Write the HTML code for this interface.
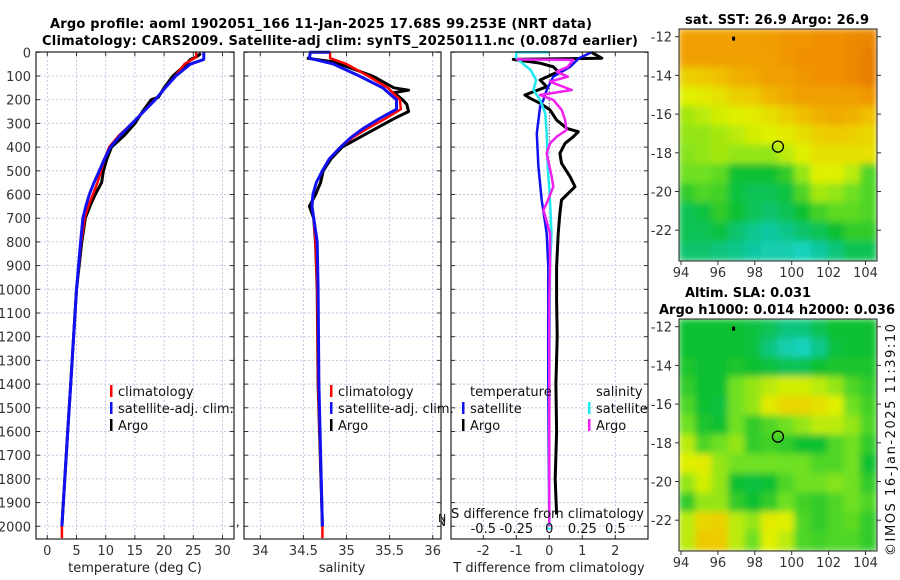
<!DOCTYPE html>
<html><head><meta charset="utf-8"><style>
html,body{margin:0;padding:0;background:#fff;}
svg{display:block;font-family:"DejaVu Sans","Liberation Sans",sans-serif;}
</style></head><body>
<svg id="fig" width="900" height="580" viewBox="0 0 900 580" xmlns="http://www.w3.org/2000/svg">
<defs>
<filter id="blur" x="0" y="0" width="1" height="1"><feGaussianBlur stdDeviation="3.5" edgeMode="duplicate"/></filter>
<clipPath id="clipM1"><rect x="679" y="29" width="198" height="232"/></clipPath>
<clipPath id="clipM2"><rect x="679" y="319" width="198" height="232"/></clipPath>
</defs>
<text x="321" y="28" font-size="13" font-weight="bold" text-anchor="middle" textLength="542">Argo profile: aoml 1902051_166 11-Jan-2025 17.68S 99.253E (NRT data)</text>
<text x="340" y="45" font-size="13" font-weight="bold" text-anchor="middle" textLength="596">Climatology: CARS2009. Satellite-adj clim: synTS_20250111.nc (0.087d earlier)</text>
<g id="root"></g>
</svg>
<script>
// ---------- data ----------
const yTicks=[0,100,200,300,400,500,600,700,800,900,1000,1100,1200,1300,1400,1500,1600,1700,1800,1900,2000];
const tTicks=[0,5,10,15,20,25,30];
const sTicks=[34,34.5,35,35.5,36];
const sTickLabels=["34","34.5","35","35.5","36"];
const dTicks=[-2,-1,0,1,2];
const dsTicks=[-0.5,-0.25,0,0.25,0.5];
const dsTickLabels=["-0.5","-0.25","0","0.25","0.5"];

const tClimP=[0,20,50,100,150,200,250,300,350,400,450,500,550,600,650,700,800,900,1000,1200,1400,1600,1800,2000,2050];
const tClimV=[25.5,25.5,23.5,21.9,20.2,18.4,16.5,14.5,12.3,10.6,9.8,9.2,8.6,7.8,7.0,6.4,5.8,5.4,5.0,4.5,4.0,3.5,3.0,2.5,2.5];
const tArgoP=[5,20,30,50,100,150,190,200,250,300,350,400,450,500,550,600,650,700,800,1000,1200,1400,1600,1800,2000];
const tArgoV=[26.3,25.5,24.5,23.8,21.5,20.0,19.0,17.8,16.3,15.0,13.2,11.0,10.2,9.6,9.3,8.2,7.3,6.5,5.9,5.0,4.5,4.0,3.5,3.0,2.5];
const tSatP=[0,30,50,100,150,200,250,300,350,400,450,500,550,600,650,700,800,1000,1200,1400,1600,1800,2000];
const tSatV=[26.8,26.8,24.5,22.0,20.2,18.5,16.5,14.5,12.5,10.8,9.8,8.9,8.0,7.2,6.6,6.1,5.7,5.0,4.5,4.0,3.5,3.0,2.5];

const sClimP=[0,25,50,100,150,200,240,280,320,360,400,450,500,550,600,650,700,800,1000,1400,2000,2050];
const sClimV=[34.81,34.81,35.0,35.25,35.48,35.62,35.63,35.45,35.25,35.07,34.93,34.8,34.72,34.65,34.61,34.6,34.62,34.64,34.66,34.67,34.72,34.72];
const sArgoP=[25,40,60,100,150,160,170,200,220,250,280,320,360,400,450,500,550,600,650,680,700,800,1000,1400,2000];
const sArgoV=[34.54,34.85,35.0,35.3,35.55,35.72,35.55,35.65,35.7,35.72,35.55,35.35,35.15,34.95,34.82,34.73,34.7,34.64,34.57,34.6,34.62,34.64,34.66,34.67,34.72];
const sSatP=[0,0,25,50,100,150,200,240,280,320,360,400,450,500,550,600,650,700,800,1000,1400,2000];
const sSatV=[34.81,34.58,34.57,34.85,35.15,35.42,35.58,35.58,35.38,35.2,35.05,34.93,34.8,34.72,34.65,34.61,34.6,34.62,34.66,34.67,34.68,34.72];

const dTArgoP=[0,25,30,46,61,82,117,145,180,194,215,243,286,321,335,356,384,426,468,525,567,623,679,764,905,1045,1200,1400,1600,1800,1950];
const dTArgoV=[1.28,1.59,-1.09,-0.28,0.12,0.27,-0.28,-0.08,-0.74,-0.58,-0.28,0.02,0.22,0.53,0.88,0.73,0.48,0.32,0.37,0.63,0.78,0.37,0.32,0.27,0.22,0.22,0.24,0.2,0.22,0.18,0.22];
const dTSatP=[0,25,61,103,159,201,229,342,482,623,764,905,1045,1400,2000];
const dTSatV=[1.28,0.9,0.63,0.12,-0.08,-0.18,-0.28,-0.38,-0.33,-0.23,-0.08,-0.03,-0.03,-0.03,0];
const dSArgoP=[30,32,61,82,103,124,159,180,201,243,286,328,356,384,426,525,567,637,665,764,905,1045,1400,2000];
const dSArgoV=[-0.25,0.18,0.14,0.056,0.14,0.005,0.17,-0.07,0.03,0.094,0.12,0.13,0.056,0.005,-0.02,0.018,0.03,-0.02,-0.045,0.005,0.005,0.0,0.0,0.0];
const dSSatP=[0,0,25,75,117,159,201,258,342,482,623,764,905,1400,2000];
const dSSatV=[0,-0.25,-0.25,-0.14,-0.1,-0.12,-0.07,-0.03,-0.02,-0.012,0.005,0.017,0.005,0.0,0.0];

const mapLonTicks=[94,96,98,100,102,104];
const mapLatTicks=[-12,-14,-16,-18,-20,-22];
const sstGrid=[
[0.85,0.85,0.85,0.85,0.85,0.86,0.88,0.88,0.9,0.9,0.92,0.93],
[0.85,0.85,0.85,0.85,0.85,0.85,0.88,0.9,0.9,0.9,0.92,0.95],
[0.7,0.72,0.75,0.8,0.82,0.85,0.85,0.88,0.9,0.9,0.92,0.95],
[0.6,0.62,0.65,0.7,0.72,0.78,0.82,0.85,0.85,0.85,0.85,0.88],
[0.52,0.55,0.58,0.6,0.62,0.65,0.7,0.75,0.8,0.82,0.8,0.75],
[0.5,0.5,0.52,0.55,0.58,0.6,0.62,0.65,0.7,0.72,0.7,0.68],
[0.48,0.5,0.52,0.5,0.5,0.5,0.55,0.6,0.65,0.65,0.65,0.65],
[0.45,0.45,0.42,0.3,0.3,0.3,0.35,0.5,0.6,0.6,0.55,0.4],
[0.35,0.4,0.38,0.28,0.25,0.25,0.28,0.4,0.52,0.5,0.45,0.4],
[0.25,0.28,0.35,0.3,0.25,0.22,0.25,0.3,0.38,0.42,0.42,0.4],
[0.25,0.25,0.28,0.22,0.18,0.15,0.18,0.22,0.25,0.3,0.35,0.35],
[0.22,0.22,0.2,0.18,0.15,0.12,0.12,0.08,0.15,0.2,0.25,0.25]];
const slaGrid=[
[0.3,0.3,0.3,0.3,0.28,0.25,0.2,0.2,0.25,0.3,0.3,0.3],
[0.3,0.3,0.3,0.3,0.28,0.2,0.12,0.08,0.18,0.28,0.3,0.3],
[0.32,0.3,0.3,0.32,0.3,0.28,0.25,0.25,0.3,0.32,0.32,0.32],
[0.35,0.3,0.3,0.45,0.5,0.55,0.58,0.58,0.55,0.5,0.4,0.35],
[0.4,0.3,0.28,0.45,0.5,0.62,0.68,0.68,0.65,0.6,0.45,0.38],
[0.45,0.32,0.3,0.45,0.35,0.4,0.45,0.5,0.55,0.55,0.5,0.4],
[0.55,0.4,0.45,0.5,0.35,0.38,0.35,0.3,0.3,0.4,0.45,0.35],
[0.6,0.62,0.5,0.45,0.45,0.45,0.45,0.45,0.4,0.4,0.45,0.3],
[0.5,0.58,0.5,0.3,0.28,0.3,0.4,0.45,0.45,0.48,0.45,0.35],
[0.35,0.5,0.5,0.35,0.3,0.35,0.45,0.38,0.35,0.4,0.45,0.4],
[0.55,0.68,0.7,0.55,0.5,0.62,0.6,0.4,0.35,0.4,0.42,0.35],
[0.55,0.72,0.72,0.55,0.45,0.6,0.55,0.4,0.38,0.4,0.4,0.35]];
const argoLon=[99.253];
const argoLat=[-17.68];

// ---------- scales ----------
const yP=p=>52.3+p*0.237;
const xT=t=>47.3+t*5.84;
const xS=s=>260.3+(s-34)*86.2;
const xD=d=>549.3+d*33;
const xDS=d=>549.3+d*132;
const lonX=l=>681+(l-94)*18.45;
const latY=(l,y0)=>y0+(-12-l)*19.35;

const NS="http://www.w3.org/2000/svg";
const root=document.getElementById('root');
function mk(tag,attrs,parent){const e=document.createElementNS(NS,tag);for(const k in attrs)e.setAttribute(k,attrs[k]);(parent||root).appendChild(e);return e;}
function txt(s,attrs,parent){const e=mk('text',attrs,parent);e.textContent=s;return e;}

let e=txt("Argo SIO",{x:88,y:511,'font-size':12});


e=txt("PI: DEAN ROEMMICH, SARAH GILLE, JOHN GILSON",{x:88,y:526,'font-size':12,textLength:358});



const panels=[
 {x0:36,x1:234,name:'temperature-panel'},
 {x0:244,x1:441,name:'salinity-panel'},
 {x0:451,x1:648,name:'difference-panel'}];
const Y0=52,Y1=539;
panels.forEach((pn,i)=>{
 const g=mk('g',{});
 
 
 pn.g=g;
 mk('rect',{x:pn.x0,y:Y0,width:pn.x1-pn.x0,height:Y1-Y0,fill:'#fff'},g);
 yTicks.forEach(p=>{
  const l=mk('line',{x1:pn.x0,x2:pn.x1,y1:yP(p),y2:yP(p),stroke:'#c4c6e4','stroke-width':1,'stroke-dasharray':'2,2'},g);
  
  
  mk('line',{x1:pn.x0,x2:pn.x0+4,y1:yP(p),y2:yP(p),stroke:'#333'},g);
  mk('line',{x1:pn.x1-4,x2:pn.x1,y1:yP(p),y2:yP(p),stroke:'#333'},g);
 });
});
function xgrid(pn,ticks,fx,labels,ly){
 ticks.forEach((t,j)=>{
  const x=fx(t);
  const l=mk('line',{x1:x,x2:x,y1:Y0,y2:Y1,stroke:'#c4c6e4','stroke-dasharray':'2,2'},pn.g);
  
  
  mk('line',{x1:x,x2:x,y1:Y1-4,y2:Y1,stroke:'#333'},pn.g);
  mk('line',{x1:x,x2:x,y1:Y0,y2:Y0+4,stroke:'#333'},pn.g);
  const tl=txt(labels[j],{x:x,y:ly,'font-size':13,'text-anchor':'middle',fill:'#333'});
  
  
 });
}
xgrid(panels[0],tTicks,xT,tTicks.map(String),555);
xgrid(panels[1],sTicks,xS,sTickLabels,555);
xgrid(panels[2],dTicks,xD,dTicks.map(String),555);
yTicks.forEach(p=>{
 const t=txt(String(p),{x:31,y:yP(p)+5,'font-size':13,'text-anchor':'end',fill:'#333'});
 
 
});
[['temperature (deg C)',135,'x-axis-title-temperature'],['salinity',342,'x-axis-title-salinity'],['T difference from climatology',549,'x-axis-title-t-difference']].forEach(a=>{
 const t=txt(a[0],{x:a[1],y:572,'font-size':13,'text-anchor':'middle',fill:'#222'});
 
 
});

function line(P,V,fx,color,w,g,name){
 const d=P.map((p,i)=>(i?'L':'M')+fx(V[i]).toFixed(1)+','+yP(p).toFixed(1)).join('');
 const el=mk('path',{d:d,fill:'none',stroke:color,'stroke-width':w,'stroke-linejoin':'round'},g);
 
 
 return el;
}
mk('line',{x1:xD(0),x2:xD(0),y1:yP(25),y2:yP(380),stroke:'#333','stroke-dasharray':'1,2'},panels[2].g);

line(tArgoP,tArgoV,xT,'#000',3,panels[0].g,'temperature-argo-line');
line(tClimP,tClimV,xT,'#f00',2.5,panels[0].g,'temperature-climatology-line');
line(tSatP,tSatV,xT,'#1010f0',3,panels[0].g,'temperature-satellite-line');
line(sArgoP,sArgoV,xS,'#000',3,panels[1].g,'salinity-argo-line');
line(sClimP,sClimV,xS,'#f00',2.5,panels[1].g,'salinity-climatology-line');
line(sSatP,sSatV,xS,'#1010f0',3,panels[1].g,'salinity-satellite-line');
line(dTArgoP,dTArgoV,xD,'#000',3,panels[2].g,'t-diff-argo-line');
line(dTSatP,dTSatV,xD,'#1010f0',2.5,panels[2].g,'t-diff-satellite-line');
line(dSSatP,dSSatV,xDS,'#20e8f0',2.5,panels[2].g,'s-diff-satellite-line');
line(dSArgoP,dSArgoV,xDS,'#f020f0',2.5,panels[2].g,'s-diff-argo-line');
mk('circle',{cx:xD(0),cy:yP(2000),r:2.5,fill:'none',stroke:'#20e8f0','stroke-width':1.5},panels[2].g);

function leg(x,y,color,label,name){
 const g=mk('g',{});
 
 
 mk('rect',{x:x,y:y-11,width:2.5,height:12,fill:color},g);
 txt(label,{x:x+8,y:y,'font-size':13,fill:'#111'},g);
}
leg(110,396,'#f00','climatology','legend-climatology-temperature');
leg(110,413,'#1010f0','satellite-adj. clim.','legend-satellite-temperature');
leg(110,430,'#000','Argo','legend-argo-temperature');
leg(330,396,'#f00','climatology','legend-climatology-salinity');
leg(330,413,'#1010f0','satellite-adj. clim.','legend-satellite-salinity');
leg(330,430,'#000','Argo','legend-argo-salinity');
e=txt('temperature',{x:470,y:396,'font-size':13,fill:'#111'});


e=txt('salinity',{x:596,y:396,'font-size':13,fill:'#111'});


leg(462,413,'#1010f0','satellite','legend-t-diff-satellite');
leg(462,430,'#000','Argo','legend-t-diff-argo');
leg(588,413,'#20e8f0','satellite','legend-s-diff-satellite');
leg(588,430,'#f020f0','Argo','legend-s-diff-argo');
e=txt('S difference from climatology',{x:451,y:518,'font-size':13,fill:'#111',textLength:193});


dsTicks.forEach((d,j)=>{
 const t=txt(dsTickLabels[j],{x:xDS(d),y:533,'font-size':13,'text-anchor':'middle',fill:'#111'});
 
 
});
panels.forEach(pn=>{mk('rect',{x:pn.x0,y:Y0,width:pn.x1-pn.x0,height:Y1-Y0,fill:'none',stroke:'#222','stroke-width':1.2},pn.g);});
txt('N',{x:438,y:522,'font-size':11,fill:'#111'});

// ---------- maps ----------
const stops=[[0,[32,224,224]],[0.15,[16,200,160]],[0.3,[16,192,48]],[0.45,[112,224,32]],[0.6,[224,240,0]],[0.75,[240,192,0]],[0.9,[240,144,0]],[1,[224,112,0]]];
function cmap(v){for(let i=1;i<stops.length;i++){if(v<=stops[i][0]){const a=stops[i-1],b=stops[i],f=(v-a[0])/(b[0]-a[0]);return 'rgb('+a[1].map((c,k)=>Math.round(c+(b[1][k]-c)*f)).join(',')+')';}}return 'rgb(224,112,0)';}
function drawMap(grid,y0,clip,name){
 const g=mk('g',{});
 
 
 const cg=mk('g',{'clip-path':'url(#'+clip+')'},g);
 const hg=mk('g',{filter:'url(#blur)'},cg);
 const rows=grid.length,cols=grid[0].length,cw=198/cols,ch=232/rows;
 grid.forEach((row,r)=>row.forEach((v,c)=>{
  const cell=mk('rect',{x:679+c*cw-0.5,y:y0+r*ch-0.5,width:cw+1,height:ch+1,fill:cmap(v)},hg);
  
  
 }));
 mk('rect',{x:679,y:y0,width:198,height:232,fill:'none',stroke:'#222','stroke-width':1},g);
 const yb=y0-29+36.7;
 mapLatTicks.forEach(l=>{
  const y=latY(l,yb);
  mk('line',{x1:679,x2:675,y1:y,y2:y,stroke:'#333'},g);
  mk('line',{x1:877,x2:881,y1:y,y2:y,stroke:'#333'},g);
  const t=txt(String(l),{x:672,y:y+5,'font-size':13,'text-anchor':'end',fill:'#333'},g);
  
  
 });
 mapLonTicks.forEach(l=>{
  const x=lonX(l);
  mk('line',{x1:x,x2:x,y1:y0+232,y2:y0+236,stroke:'#333'},g);
  const t=txt(String(l),{x:x,y:y0+248,'font-size':13,'text-anchor':'middle',fill:'#333'},g);
  
  
 });
 argoLon.forEach((lo,i)=>{
  const c=mk('circle',{cx:lonX(lo),cy:latY(argoLat[i],yb),r:5.5,fill:'none',stroke:'#000','stroke-width':1.3},g);
  
  
 });
 mk('rect',{x:lonX(96.85)-1.5,y:latY(-12.1,yb)-2,width:3,height:4,fill:'#000'},g);
}
drawMap(sstGrid,29,'clipM1','sst-map');
drawMap(slaGrid,319,'clipM2','sla-map');
e=txt('sat. SST: 26.9 Argo: 26.9',{x:777,y:24,'font-size':13,'font-weight':'bold','text-anchor':'middle',textLength:184});


e=txt('Altim. SLA: 0.031',{x:685,y:297,'font-size':13,'font-weight':'bold',textLength:126});


e=txt('Argo h1000: 0.014 h2000: 0.036',{x:659,y:314,'font-size':13,'font-weight':'bold',textLength:236});


e=txt('©IMOS 16-Jan-2025 11:39:10',{x:0,y:0,'font-size':13,'text-anchor':'middle',fill:'#111',transform:'translate(895,440) rotate(-90)',textLength:232});


</script>
</body></html>
